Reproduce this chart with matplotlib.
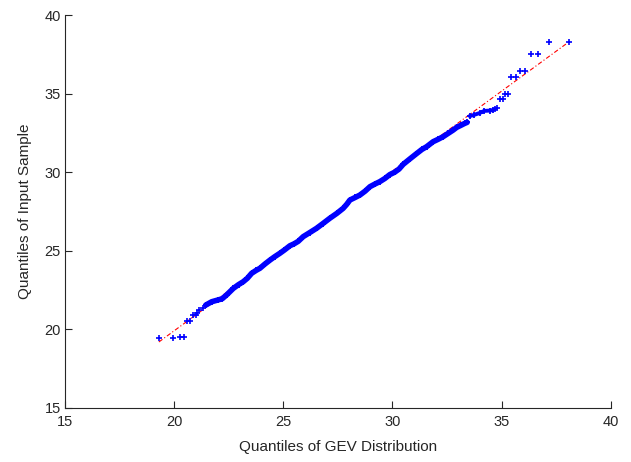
import numpy as np
import matplotlib
matplotlib.use('Agg')
import matplotlib.pyplot as plt

## QQ 플롯 데이터
# 아래쪽 꼬리 (개별 점)
low_x = [19.32, 19.93, 20.27, 20.46, 20.60, 20.72, 20.87, 20.98, 21.05, 21.14, 21.30]
low_y = [19.43, 19.43, 19.54, 19.54, 20.55, 20.55, 20.92, 20.92, 21.02, 21.25, 21.34]

# 가운데 촘촘한 구간
body_x = [21.45, 21.72, 22.00, 22.20, 22.40, 22.71, 22.95, 23.16, 23.35, 23.55,
          23.75, 23.93, 24.15, 24.39, 24.60, 24.84, 25.05, 25.30, 25.50, 25.68,
          25.91, 26.20, 26.52, 26.80, 27.13, 27.45, 27.74, 27.90, 28.05, 28.30,
          28.51, 28.75, 28.97, 29.20, 29.42, 29.65, 29.88, 30.10, 30.30, 30.49,
          30.80, 31.10, 31.35, 31.56, 31.86, 32.10, 32.32, 32.55, 32.78, 32.94,
          33.16, 33.30, 33.42]
body_y = [21.55, 21.76, 21.87, 21.95, 22.19, 22.61, 22.85, 23.03, 23.25, 23.57,
          23.75, 23.89, 24.15, 24.41, 24.62, 24.84, 25.05, 25.32, 25.45, 25.60,
          25.90, 26.15, 26.43, 26.72, 27.07, 27.38, 27.70, 27.95, 28.23, 28.40,
          28.55, 28.80, 29.08, 29.25, 29.40, 29.60, 29.85, 30.00, 30.20, 30.50,
          30.85, 31.18, 31.45, 31.62, 31.94, 32.10, 32.26, 32.47, 32.68, 32.85,
          33.00, 33.10, 33.17]

# 위쪽 평평한 구간
flat_x = [33.54, 33.75, 34.00, 34.20, 34.46, 34.60]
flat_y = [33.57, 33.65, 33.77, 33.90, 33.92, 33.96]

# 위쪽 꼬리 (개별 점)
high_x = [34.69, 34.79, 34.92, 35.04, 35.16, 35.28, 35.45, 35.65, 35.83, 36.08,
          36.34, 36.67, 37.18, 38.09]
high_y = [34.04, 34.08, 34.64, 34.64, 34.97, 34.97, 36.04, 36.04, 36.46, 36.46,
          37.52, 37.52, 38.30, 38.30]

# 기준선 (1사분위-3사분위 연장)
ref_x = [19.30, 38.09]
ref_y = [19.20, 38.30]

xticks = [15, 20, 25, 30, 35, 40]
yticks = [15, 20, 25, 30, 35, 40]

plt.rcParams['font.family'] = ['Liberation Sans', 'DejaVu Sans']

fig = plt.figure(figsize=(6.31, 4.62), dpi=100)
ax = fig.add_axes([0.103, 0.1169, 0.865, 0.8506])

blue = (0, 0, 1)
red = (1, 0, 0)

## 기준선 (파란 점 아래에 그림)
ax.plot(ref_x, ref_y, color=red, linewidth=0.8, linestyle=(0, (4, 2, 1, 2)), zorder=2)

## 촘촘한 구간은 겹친 마커가 굵은 띠처럼 보임
ax.plot(body_x, body_y, color=blue, linewidth=4.0, solid_capstyle='round', zorder=3)
ax.plot(flat_x, flat_y, color=blue, linewidth=2.8, solid_capstyle='round', zorder=3)
ax.plot(body_x + flat_x, body_y + flat_y, '+', color=blue, markersize=4.5, markeredgewidth=1.3, zorder=3)
ax.plot(low_x, low_y, '+', color=blue, markersize=4, markeredgewidth=1.2, zorder=3)
ax.plot(high_x, high_y, '+', color=blue, markersize=4, markeredgewidth=1.2, zorder=3)

ax.set_xlim(15, 40)
ax.set_ylim(15, 40)
ax.set_xticks(xticks)
ax.set_yticks(yticks)

for s in ['top', 'right']:
    ax.spines[s].set_visible(False)
for s in ['left', 'bottom']:
    ax.spines[s].set_color('#262626')
    ax.spines[s].set_linewidth(0.8)

ax.tick_params(direction='in', length=5, width=0.8, colors='#262626',
               labelsize=10.5, pad=3)
ax.tick_params(axis='x', pad=5)

ax.set_xlabel('Quantiles of GEV Distribution', fontsize=11, color='#262626', labelpad=8)
ax.set_ylabel('Quantiles of Input Sample', fontsize=11, color='#262626', labelpad=9)

fig.savefig('out.png', dpi=100)
